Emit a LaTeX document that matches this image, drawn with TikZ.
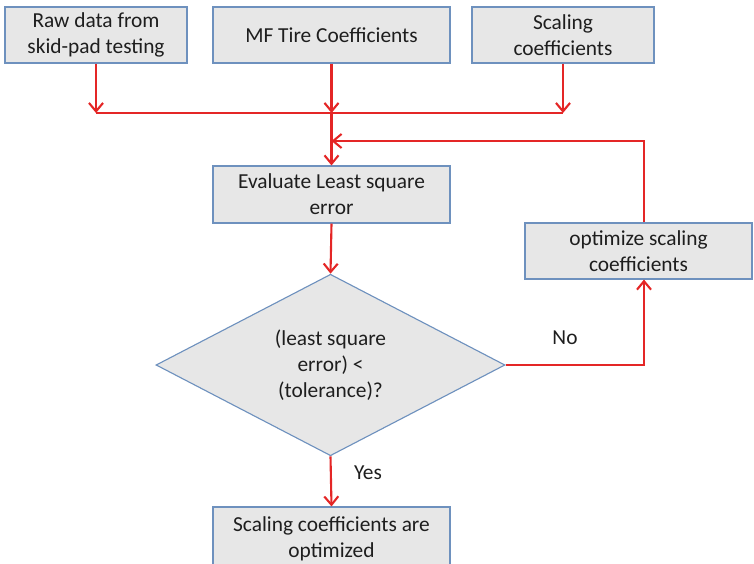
\documentclass[tikz,border=0pt]{standalone}
\usepackage{fontspec}
\setmainfont{Carlito}
\usepackage{tikz}
\usetikzlibrary{arrows.meta}
\usetikzlibrary{shapes.geometric}

\definecolor{cajagris}{RGB}{231,231,231}
\definecolor{bordeazul}{RGB}{110,145,190}
\definecolor{flechaRoja}{RGB}{228,38,38}
\definecolor{textoGris}{RGB}{30,30,30}

\begin{document}
\begin{tikzpicture}[
            font=\fontsize{15.2}{18.4}\selectfont, text=textoGris,
            caja/.style={draw=bordeazul, fill=cajagris, line width=0.8pt,
                minimum height=1.4cm, inner sep=0pt, align=center},
            rombo/.style={diamond, draw=bordeazul, fill=cajagris, line width=0.8pt,
                minimum width=8.725cm, minimum height=4.4cm, inner sep=0pt, align=center},
            linea/.style={flechaRoja, line width=1.5pt},
            flujo/.style={linea, -{Straight Barb[length=6pt, width=10pt, line width=1.5pt]}}
        ]
            \clip (0,0) rectangle (18.85,14.075);

            % Entradas
            \node[caja, minimum width=4.55cm] (raw) at (2.4,13.2) {Raw data from\\skid-pad testing};
            \node[caja, minimum width=5.925cm] (mf) at (8.2875,13.2) {MF Tire Coefficients};
            \node[caja, minimum width=4.55cm] (scal) at (14.075,13.2) {Scaling\\coefficients};

            % Evaluacion y decision
            \node[caja, minimum width=5.925cm, minimum height=1.425cm] (eval) at (8.2875,9.2125) {Evaluate Least square\\error};
            \node[rombo] (dec) at (8.2625,4.95) {(least square\\error) <\\(tolerance)?};
            \node[caja, minimum width=5.675cm] (opt) at (15.9625,7.8) {optimize scaling\\coefficients};
            \node[caja, minimum width=5.925cm, minimum height=1.6cm] (done) at (8.2875,0.6) {Scaling coefficients are\\optimized};

            % Puntos de union
            \coordinate (bus) at (8.2875,11.25);
            \coordinate (fb) at (8.2875,10.55);
            \coordinate (ret) at (16.1,10.55);

            % Flechas de entrada
            \draw[flujo] (raw.south) -- (raw.south |- bus);
            \draw[flujo] (mf.south) -- (bus);
            \draw[flujo] (scal.south) -- (scal.south |- bus);
            \draw[linea] (raw.south |- bus) -- (scal.south |- bus);
            \draw[flujo] (bus) -- (eval.north);
            \draw[flujo] (eval.south) -- (dec.north);

            % Lazo de optimizacion
            \draw[flujo] (dec.east) -| (ret |- opt.south);
            \draw[flujo] (ret |- opt.north) -- (ret) -- (fb);
            \draw[flujo] (dec.south) -- (done.north);

            % Etiquetas
            \node (no) at (14.125,5.625) {No};
            \node (yes) at (9.2,2.25) {Yes};

        \end{tikzpicture}
\end{document}
